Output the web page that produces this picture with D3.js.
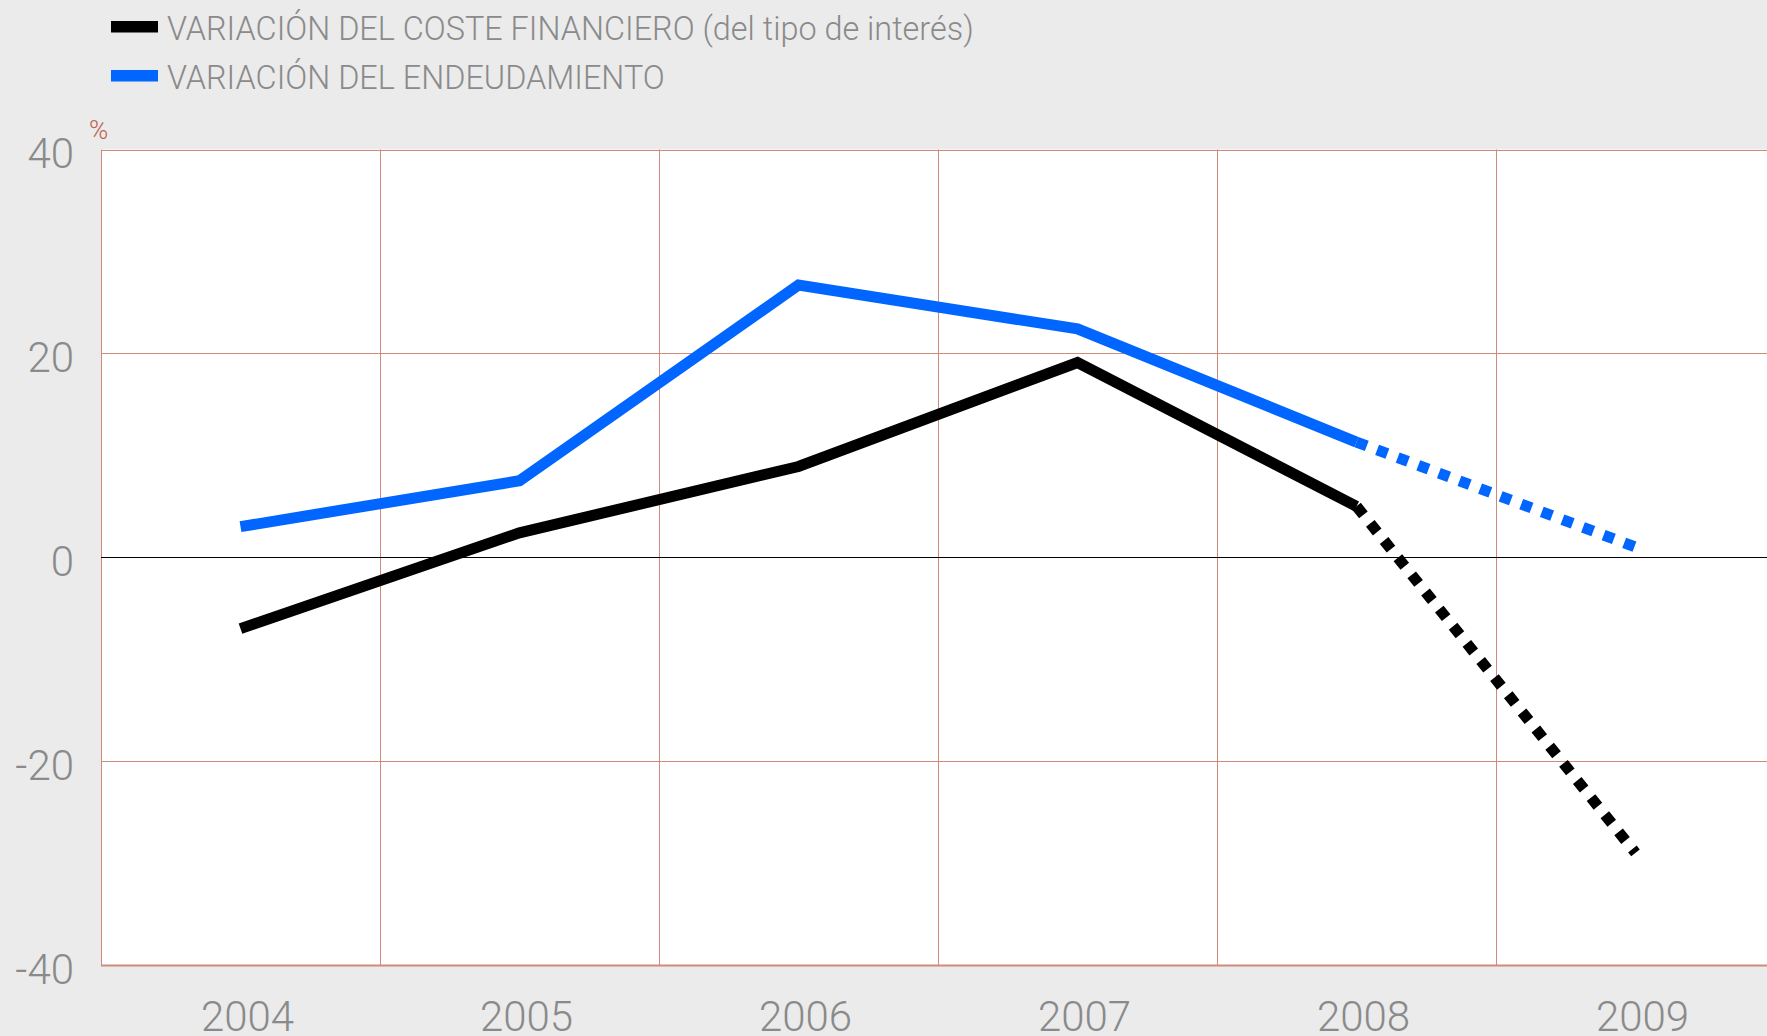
<!DOCTYPE html>
<html>
<head>
<meta charset="utf-8">
<script src="https://cdn.jsdelivr.net/npm/d3@7"></script>
<style>
  body { margin: 0; background: #ebebeb; overflow: hidden; }
  svg { display: block; }
  text { font-family: Roboto, "Liberation Sans", sans-serif; font-weight: 300; }
</style>
</head>
<body>
<svg id="chart" width="1767" height="1036"></svg>
<script>
// data
var years = ["2004", "2005", "2006", "2007", "2008", "2009"];
var costeFinanciero = [-7, 2.4, 8.9, 19.1, 5, -29];
var endeudamiento = [3, 7.5, 26.7, 22.4, 11.3, 1];
var yTicks = [40, 20, 0, -20, -40];
var lastSolidYear = "2008";   // from here on the lines are dotted (forecast)

var legendLabels = [
    "VARIACIÓN DEL COSTE FINANCIERO (del tipo de interés)",
    "VARIACIÓN DEL ENDEUDAMIENTO"
];
var seriesColors = ["#000000", "#0066ff"];

var width = 1767, height = 1036;
var left_margin = 101, top_y = 149.5, bottom_y = 965;
var bandW = 279;

var svg = d3.select("#chart");
var textColor = "#8a8a8a";
var gridColor = "#cf8a7c";

var x = d3.scaleBand()
    .domain(years)
    .range([left_margin, left_margin + bandW * years.length])
    .padding(0);

var y = d3.scaleLinear()
    .domain([-40, 40])
    .range([bottom_y, top_y]);

// white plot area
svg.append("rect")
    .attr("x", left_margin)
    .attr("y", y(40))
    .attr("width", width - left_margin)
    .attr("height", y(-40) - y(40))
    .attr("fill", "#ffffff");

// horizontal grid
svg.selectAll(".hgrid")
    .data(yTicks.filter(d => d !== 0))
    .enter()
    .append("line")
    .attr("class", "hgrid")
    .attr("x1", left_margin)
    .attr("x2", width)
    .attr("y1", d => Math.round(y(d)) + 0.5)
    .attr("y2", d => Math.round(y(d)) + 0.5)
    .attr("stroke", gridColor)
    .attr("stroke-width", d => d === -40 ? 2 : 1);

// vertical grid at the band edges
svg.selectAll(".vgrid")
    .data(years)
    .enter()
    .append("line")
    .attr("class", "vgrid")
    .attr("x1", d => Math.round(x(d)) + 0.5)
    .attr("x2", d => Math.round(x(d)) + 0.5)
    .attr("y1", y(40))
    .attr("y2", y(-40))
    .attr("stroke", gridColor)
    .attr("stroke-width", 1);

// zero line
svg.append("line")
    .attr("x1", left_margin)
    .attr("x2", width)
    .attr("y1", Math.round(y(0)) + 0.5)
    .attr("y2", Math.round(y(0)) + 0.5)
    .attr("stroke", "#000")
    .attr("stroke-width", 1);

// Y axis labels (plain hyphen for negatives, as in the original)
svg.append("g")
    .attr("transform", "translate(" + left_margin + ",0)")
    .call(d3.axisLeft(y).tickValues(yTicks).tickSize(0).tickPadding(27)
        .tickFormat(d => String(d)))
    .call(g => g.select(".domain").remove())
    .selectAll("text")
    .attr("dy", "0.43em")
    .attr("fill", textColor)
    .style("font-size", "42px")
    .style("font-family", "Roboto, 'Liberation Sans', sans-serif")
    .style("font-weight", 300);

// X axis labels
svg.append("g")
    .attr("transform", "translate(0," + bottom_y + ")")
    .call(d3.axisBottom(x).tickSize(0))
    .call(g => g.select(".domain").remove())
    .selectAll("text")
    .attr("y", 66)
    .attr("dy", 0)
    .attr("dx", 7)
    .attr("fill", textColor)
    .style("font-size", "42px")
    .style("font-family", "Roboto, 'Liberation Sans', sans-serif")
    .style("font-weight", 300);

// % unit label
svg.append("text")
    .attr("x", 89)
    .attr("y", 139)
    .attr("fill", "#c0604a")
    .style("font-size", "26px")
    .text("%");

// lines
var line = d3.line()
    .x(d => x(d.year) + x.bandwidth() / 2)
    .y(d => y(d.value));

var cut = years.indexOf(lastSolidYear);

[costeFinanciero, endeudamiento].forEach((values, i) => {
    var pts = years.map((yr, j) => ({ year: yr, value: values[j] }));

    svg.append("path")
        .datum(pts.slice(cut))
        .attr("d", line)
        .attr("fill", "none")
        .attr("stroke", seriesColors[i])
        .attr("stroke-width", 11)
        .attr("stroke-dasharray", "11,11");

    svg.append("path")
        .datum(pts.slice(0, cut + 1))
        .attr("d", line)
        .attr("fill", "none")
        .attr("stroke", seriesColors[i])
        .attr("stroke-width", 11)
        .attr("stroke-linejoin", "miter");
});

// legend
var legend = svg.selectAll(".legend")
    .data(legendLabels)
    .enter()
    .append("g")
    .attr("class", "legend")
    .attr("transform", (d, i) => "translate(111," + (21 + i * 49) + ")");

legend.append("rect")
    .attr("width", 47)
    .attr("height", 11.5)
    .attr("fill", (d, i) => seriesColors[i]);

legend.append("text")
    .attr("x", 56)
    .attr("y", 19)
    .attr("fill", textColor)
    .style("font-size", "32.4px")
    .text(d => d);
</script>
</body>
</html>
